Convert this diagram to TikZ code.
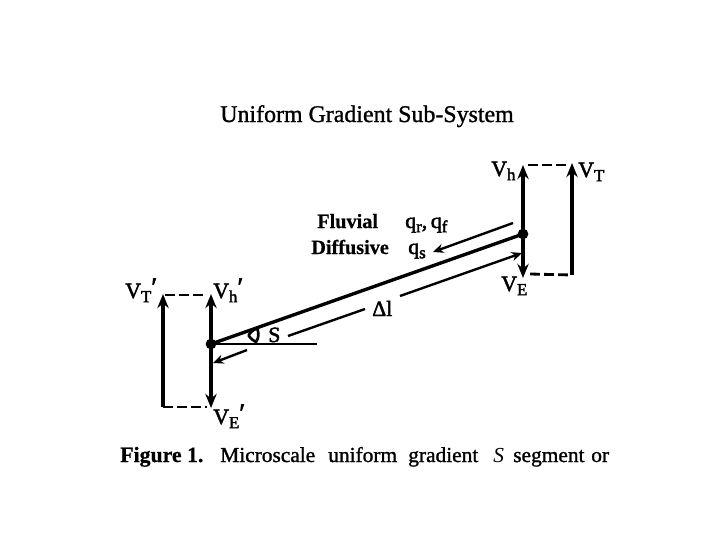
\documentclass[tikz,border=0pt]{standalone}
\usepackage{fontspec}
\setmainfont{Liberation Serif}
\newfontfamily\scanfont[FakeBold=1.2]{Liberation Serif}
\newfontfamily\scanheavy[FakeBold=2.2]{Liberation Serif}
\newfontfamily\scanbold[FakeBold=0.6]{Liberation Serif Bold}
\usepackage{tikz}
\usetikzlibrary{arrows.meta,calc,positioning}
\tikzset{
    myvec/.style={line width=2.6pt,draw=black,-{Stealth[length=10pt,width=8pt]}},
    mytie/.style={line width=2pt,draw=black,dash pattern=on 7pt off 3pt},
    myline/.style={line width=1.7pt,draw=black},
    myflux/.style={line width=1.7pt,draw=black,-{Stealth[length=7.5pt,width=6.5pt]}},
    mylabel/.style={font=\fontsize{15.5}{16}\selectfont\scanheavy,inner sep=0pt,anchor=base west},
    mytext/.style={font=\fontsize{14.4}{16}\selectfont\scanbold,inner sep=0pt,anchor=base west},
    mycap/.style={font=\fontsize{15.2}{16}\selectfont\scanfont,inner sep=0pt,anchor=base west}
}
\newcommand{\vlab}[2]{V\raisebox{-3pt}{\fontsize{12}{12}\selectfont #1}#2}
\newcommand{\vprime}{\raisebox{1.5pt}{\fontsize{19}{19}\selectfont ′}}

\begin{document}
\begin{tikzpicture}[x=0.025cm,y=-0.025cm]
  \useasboundingbox (0,0) rectangle (720,540);
  \fill[white] (0,0) rectangle (720,540);

  % title
            \node[font=\fontsize{17}{18}\selectfont\scanfont,inner sep=0pt,anchor=base west] (title) at (220,122) {Uniform Gradient Sub-System};

  %---------------- right side ----------------
            \coordinate (R) at (523,234);
            \coordinate (Rtop) at (523,165);
            \coordinate (Rbot) at (523,278);
            \coordinate (Ttop) at (572,163);
            \coordinate (Tbot) at (572,275);
            \draw[myvec] (R)--(Rtop);
            \draw[myvec] (R)--(Rbot);
            \draw[myvec] (Tbot)--(Ttop);
            \draw[mytie] ($(Rtop)+(5,0)$)--($(Ttop)+(-4,2)$);
            \draw[mytie] ($(Rbot)+(7,-4)$)--(Tbot);

  %---------------- left side ----------------
            \coordinate (L) at (211,344);
            \coordinate (Ltop) at (211,294);
            \coordinate (Lbot) at (211,408);
            \coordinate (Utop) at (163,294);
            \coordinate (Ubot) at (163,407);
            \draw[myvec] (L)--(Ltop);
            \draw[myvec] (L)--(Lbot);
            \draw[myvec] (Ubot)--(Utop);
            \draw[mytie] ($(Utop)+(2,1)$)--($(Ltop)+(-4,1)$);
            \draw[mytie] (Ubot)--($(Lbot)+(-4,-1)$);

  %---------------- segment ----------------
            \coordinate (H) at (317,344);
            \draw[line width=2.4pt] (L)--(R);
            \draw[line width=2pt] (L)--(H);
            \fill (L) circle (3.8pt);
            \fill (R) circle (3.8pt);

  % fluxes
            \coordinate (Fa) at (513,223);
            \coordinate (Fb) at (433,252);
            \draw[myflux] (Fa)--(Fb);
            \coordinate (Ga) at (247,350);
            \coordinate (Gb) at (213,363);
            \draw[myflux] (Ga)--(Gb);

  % length
            \coordinate (Da) at (400,296);
            \coordinate (Db) at (522,253);
            \coordinate (Dc) at (365,309);
            \coordinate (Dd) at (288,336);
            \draw[myflux] (Da)--(Db);
            \draw[myline] (Dc)--(Dd);

  % angle
            \draw[line width=1.9pt] (257,328) .. controls (251,331) and (248,335) .. (249,336) .. controls (251,339) and (254,341) .. (256,342) .. controls (259,338) and (259,333) .. (257,328);

  %---------------- labels ----------------
            \node[mylabel] (vh) at (491,176) {\vlab{h}{}};
            \node[mylabel] (vt) at (578,177) {\vlab{T}{}};
            \node[mylabel] (ve) at (501,291) {\vlab{E}{}};
            \node[mylabel] (vtp) at (125,298) {\vlab{T}{\vprime}};
            \node[mylabel] (vhp) at (213,298) {\vlab{h}{\vprime}};
            \node[mylabel] (vep) at (213,424) {\vlab{E}{\vprime}};
            \node[mylabel] (s) at (268,342) {S};
            \node[mylabel] (dl) at (372,316) {Δl};

            \node[mytext] (fluvial) at (317,228) {Fluvial};
            \node[mytext] (diffusive) at (311,254) {Diffusive};
            \node[mylabel] (qr) at (405,228) {q\raisebox{-3pt}{\fontsize{12}{12}\selectfont r},\,q\raisebox{-3pt}{\fontsize{12}{12}\selectfont f}};
            \node[mylabel] (qs) at (408,254) {q\raisebox{-3pt}{\fontsize{12}{12}\selectfont s}};

  % caption
            \node[mycap,font=\fontsize{15.5}{16}\selectfont\scanbold] (figno) at (120,462) {Figure 1.};
            \node[mycap] (capa) at (220,462) {Microscale};
            \node[mycap] (capb) at (328,462) {uniform};
            \node[mycap] (capc) at (408,462) {gradient};
            \node[mycap,font=\fontsize{15.2}{16}\selectfont\itshape] (capd) at (493,462) {S};
            \node[mycap] (cape) at (513,462) {segment};
            \node[mycap] (capf) at (591,462) {or};
\end{tikzpicture}
\end{document}
